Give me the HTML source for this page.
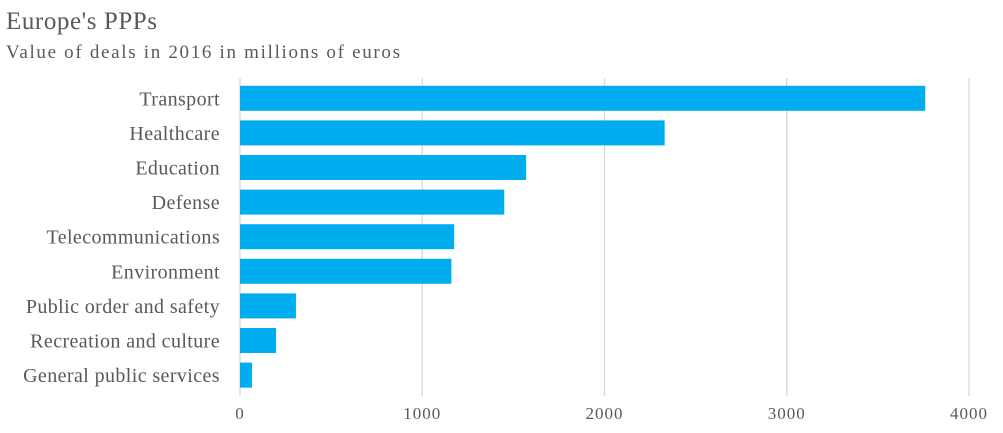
<!DOCTYPE html>
<html><head><meta charset="utf-8"><style>
body{margin:0;background:#fff;}
svg text{font-family:"Liberation Serif",serif;fill:#595959;}
</style></head><body>
<svg width="1003" height="428" xmlns="http://www.w3.org/2000/svg" id="chart">
<text x="6" y="29" font-size="25" textLength="151" lengthAdjust="spacing">Europe's PPPs</text>
<text x="6" y="58" font-size="19" textLength="394" lengthAdjust="spacing">Value of deals in 2016 in millions of euros</text>
<g id="grid"></g><g id="bars"></g><g id="labels"></g><g id="ticks"></g>
</svg>
<script>
const categories=["Transport","Healthcare","Education","Defense","Telecommunications","Environment","Public order and safety","Recreation and culture","General public services"];
const values=[3760,2330,1570,1450,1175,1160,307,198,66];
const ticks=[0,1000,2000,3000,4000];
const NS="http://www.w3.org/2000/svg";
const X0=240,X1=969,MAXV=4000,TOPY=81,STEP=34.6,BARH=25;
const xs=v=>X0+(v/MAXV)*(X1-X0);
const ys=i=>TOPY+i*STEP+(STEP-BARH)/2;
function mk(t,a){const e=document.createElementNS(NS,t);for(const k in a)e.setAttribute(k,a[k]);return e;}
const g=document.getElementById('grid'),b=document.getElementById('bars'),l=document.getElementById('labels'),tk=document.getElementById('ticks');
ticks.forEach(t=>{
 const ln=mk('line',{x1:xs(t),x2:xs(t),y1:78,y2:396,stroke:'#d9d9d9','stroke-width':1.3});
 
 
 g.appendChild(ln);
 const tx=mk('text',{x:xs(t),y:419,'font-size':17,'text-anchor':'middle','letter-spacing':1});
 tx.textContent=t;
 
 
 tk.appendChild(tx);
});
categories.forEach((c,i)=>{
 const r=mk('rect',{x:X0,y:ys(i),width:xs(values[i])-X0,height:BARH,fill:'#00AEEF'});
 
 
 b.appendChild(r);
 const t=mk('text',{x:220,y:ys(i)+BARH/2+7,'font-size':20,'text-anchor':'end','letter-spacing':0.4});
 t.textContent=c;
 
 
 l.appendChild(t);
});
</script>
</body></html>
